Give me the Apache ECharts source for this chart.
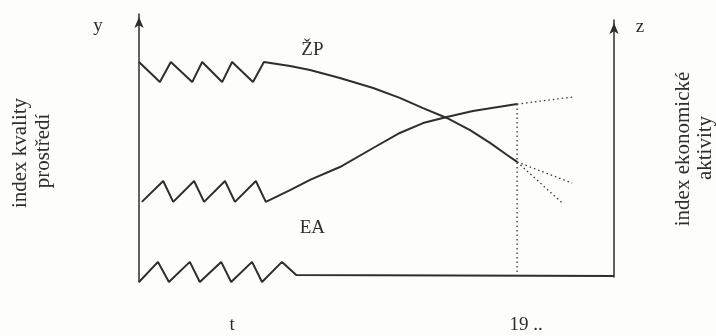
<!DOCTYPE html>
<html>
<head>
<meta charset="utf-8">
<script src="https://cdn.jsdelivr.net/npm/echarts@6/dist/echarts.min.js"></script>
<style>
html,body{margin:0;padding:0;background:#fdfdfc;}
#c{width:716px;height:336px;}
</style>
</head>
<body>
<div id="c"></div>
<script>
// Data (abstract units: time 0..100, index 0..100)
var zpSolid = [[0,82.1],[4.4,74.6],[6.7,82.1],[11.2,74.6],[13.3,82.1],[17.5,74.6],[19.6,82.1],[24.0,74.6],[26.3,82.1],
  [31.8,80.6],[36.0,79.1],[42.3,76.1],[49.3,72.4],[54.9,68.7],[59.8,64.9],[64.8,61.2],[69.7,56.7],[73.9,51.9],[77.5,47.4],[79.6,44.8]];
var eaSolid = [[0.6,29.9],[5.1,37.7],[7.2,29.9],[11.6,37.7],[13.7,29.9],[18.1,37.7],[20.2,29.9],[24.6,37.7],[26.7,29.9],
  [31.8,34.3],[36.0,38.1],[42.3,42.9],[49.3,50.0],[54.9,55.6],[59.8,59.3],[64.8,61.6],[70.3,63.8],[79.6,66.4]];
var baseLine = [[0,0],[4.0,7.5],[6.3,0],[10.7,7.5],[12.8,0],[17.3,7.5],[19.4,0],[23.8,7.5],[25.9,0],[30.1,7.5],[33.1,2.6],[100,2.2]];
var eaForecast = [[79.6,66.4],[91.2,69.0]];
var zpForecastA = [[79.6,44.8],[91.2,36.9]];
var zpForecastB = [[79.6,44.8],[89.1,29.5]];
var presentLine = [[79.6,66.4],[79.6,2.2]];
var xTickLabels = [{x:19.6,text:'t'},{x:81.5,text:'19 ..'}];
var seriesLabels = [{x:36.5,y:86.5,text:'ŽP'},{x:36.5,y:20.3,text:'EA'}];

var font = '"Liberation Serif", "DejaVu Serif", serif';
var ink = '#2e2e2e';
var chart = echarts.init(document.getElementById('c'), null, {renderer:'canvas'});
var solid = {color: ink, width: 2};
var dotted = {color: '#3a3a3a', width: 1.3, type: [1.5, 3]};
var axisLineStyle = {show:true,onZero:false,lineStyle:{color:ink,width:1.5},symbol:['none','arrow'],symbolSize:[7,11],symbolOffset:[0,-3]};
chart.setOption({
  animation:false,
  backgroundColor:'#fdfdfc',
  grid:[{left:139,right:102,top:14,bottom:54},{left:139,right:102,top:20,bottom:59}],
  xAxis:[{type:'value',min:0,max:100,gridIndex:0,show:false},{type:'value',min:0,max:100,gridIndex:1,show:false}],
  yAxis:[
    {type:'value',min:0,max:100,gridIndex:0,position:'left',axisLine:axisLineStyle,
     axisTick:{show:false},axisLabel:{show:false},splitLine:{show:false}},
    {type:'value',min:0,max:100,gridIndex:1,position:'right',axisLine:axisLineStyle,
     axisTick:{show:false},axisLabel:{show:false},splitLine:{show:false}}
  ],
  series:[
    {type:'line',data:zpSolid,symbol:'none',lineStyle:solid},
    {type:'line',data:eaSolid,symbol:'none',lineStyle:solid},
    {type:'line',data:baseLine,symbol:'none',lineStyle:solid},
    {type:'line',data:eaForecast,symbol:'none',lineStyle:dotted},
    {type:'line',data:zpForecastA,symbol:'none',lineStyle:dotted},
    {type:'line',data:zpForecastB,symbol:'none',lineStyle:dotted},
    {type:'line',data:presentLine,symbol:'none',lineStyle:dotted}
  ]
});

var g = [];
var txt = function(x,y,text,rot,size){
  return {type:'text',x:x,y:y,rotation:rot||0,style:{text:text,fill:ink,font:(size||18)+'px '+font,textAlign:'center',textVerticalAlign:'middle'}};
};
seriesLabels.forEach(function(l){
  var p = chart.convertToPixel({gridIndex:0},[l.x,l.y]);
  g.push(txt(p[0],p[1],l.text,0,19));
});
xTickLabels.forEach(function(l){
  var p = chart.convertToPixel({gridIndex:0},[l.x,0]);
  g.push(txt(p[0],325,l.text,0,19));
});
g.push(txt(98,26,'y',0,19));
g.push(txt(640,27,'z',0,19));
g.push(txt(20,153,'index kvality',Math.PI/2,21));
g.push(txt(43,151,'prostředí',Math.PI/2,21));
g.push(txt(683,149,'index ekonomické',Math.PI/2,21));
g.push(txt(705,148,'aktivity',Math.PI/2,21));
chart.setOption({graphic:g});
</script>
</body>
</html>
